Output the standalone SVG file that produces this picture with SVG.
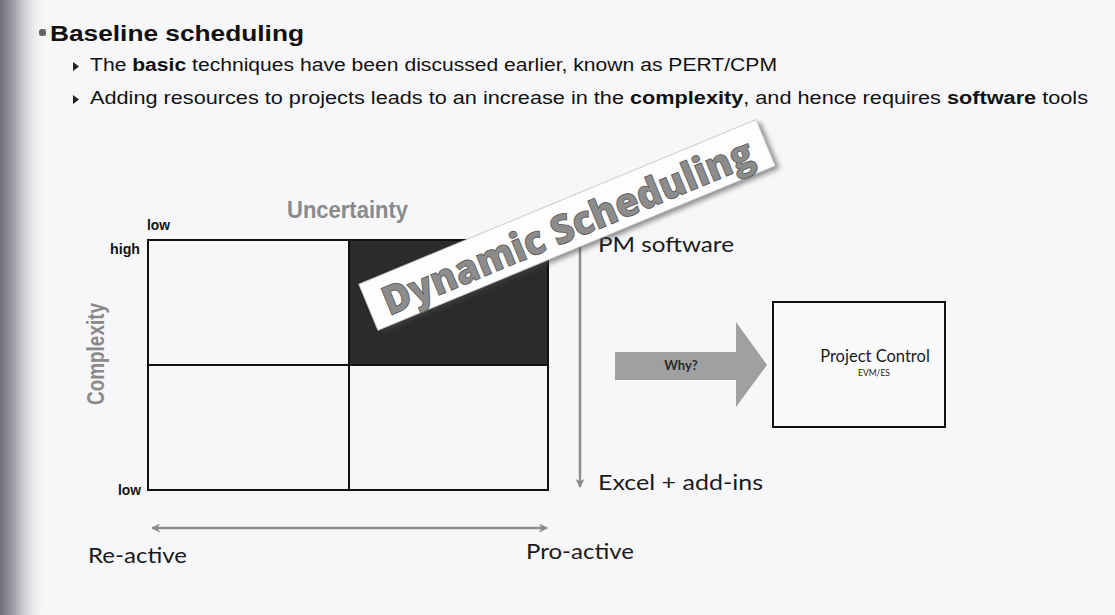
<svg xmlns="http://www.w3.org/2000/svg" width="1115" height="615" viewBox="0 0 1115 615">
<defs>
<linearGradient id="edge" x1="0" y1="0" x2="1" y2="0">
<stop offset="0" stop-color="#6f6f78"/>
<stop offset="0.35" stop-color="#a9a9b2"/>
<stop offset="1" stop-color="#f7f7f9" stop-opacity="0"/>
</linearGradient>
<marker id="ah" viewBox="0 0 10 10" refX="9" refY="5" markerWidth="9" markerHeight="9" markerUnits="userSpaceOnUse" orient="auto-start-reverse">
<path d="M0,0 L10,5 L0,10 L3,5 Z" fill="#8a8a8a"/>
</marker>
<filter id="sh" x="-10%" y="-30%" width="120%" height="160%">
<feGaussianBlur stdDeviation="2.5"/>
</filter>
</defs>
<style>
.hd{font-family:"Liberation Sans",Arial,sans-serif;fill:#111}
.gs{font-family:Lato,"Open Sans",sans-serif;fill:#1a1a1a}
.cond{font-family:"Liberation Sans Narrow","Liberation Sans",Arial,sans-serif;font-weight:bold}
.ax{fill:#8a8a8a}
.grid{fill:none;stroke:#111;stroke-width:2}
.conn{stroke:#8f8f8f;stroke-width:2.5;fill:none}
</style>
<rect width="1115" height="615" fill="#f7f7f9"/>
<rect x="0" y="0" width="46" height="615" fill="url(#edge)"/>

<g id="header">
<rect x="39" y="29" width="7" height="7" rx="2.5" fill="#666"/>
<text class="hd" x="50" y="41" font-size="22" font-weight="bold" textLength="254" lengthAdjust="spacingAndGlyphs">Baseline scheduling</text>
<path d="M73,62 L79,66.5 L73,71 Z" fill="#222"/>
<text class="hd" x="90" y="71" font-size="17.5" textLength="687" lengthAdjust="spacingAndGlyphs">The <tspan font-weight="bold">basic</tspan> techniques have been discussed earlier, known as PERT/CPM</text>
<path d="M73,95 L79,99.5 L73,104 Z" fill="#222"/>
<text class="hd" x="90" y="104" font-size="17.5" textLength="998" lengthAdjust="spacingAndGlyphs">Adding resources to projects leads to an increase in the <tspan font-weight="bold">complexity</tspan>, and hence requires <tspan font-weight="bold">software</tspan> tools</text>
</g>

<g id="matrix">
<rect x="349" y="240" width="199" height="125" fill="#2b2b2b"/>
<rect class="grid" x="148" y="240" width="400" height="250"/>
<line class="grid" x1="349" y1="240" x2="349" y2="490"/>
<line class="grid" x1="148" y1="365" x2="548" y2="365"/>
<text class="cond ax" x="287" y="218" font-size="24" textLength="121" lengthAdjust="spacingAndGlyphs">Uncertainty</text>
<text class="cond ax" transform="translate(104,405) rotate(-90)" font-size="23" textLength="102" lengthAdjust="spacingAndGlyphs">Complexity</text>
<text class="cond" x="147" y="230" font-size="15" fill="#111" textLength="23" lengthAdjust="spacingAndGlyphs">low</text>
<text class="cond" x="110" y="254" font-size="15" fill="#111" textLength="30" lengthAdjust="spacingAndGlyphs">high</text>
<text class="cond" x="118" y="495" font-size="15" fill="#111" textLength="23" lengthAdjust="spacingAndGlyphs">low</text>
</g>

<g id="connectors">
<line class="conn" x1="580" y1="246" x2="580" y2="487" marker-end="url(#ah)"/>
<line class="conn" x1="152" y1="528" x2="547" y2="528" marker-start="url(#ah)" marker-end="url(#ah)"/>
</g>

<g id="software-labels">
<text class="gs" x="598" y="252" font-size="22" textLength="136" lengthAdjust="spacingAndGlyphs">PM software</text>
<text class="gs" x="598" y="490" font-size="22" textLength="165" lengthAdjust="spacingAndGlyphs">Excel + add-ins</text>
</g>

<g id="activity-labels">
<text class="gs" x="88" y="563" font-size="22" textLength="99" lengthAdjust="spacingAndGlyphs">Re-active</text>
<text class="gs" x="526" y="559" font-size="22" textLength="108" lengthAdjust="spacingAndGlyphs">Pro-active</text>
</g>

<g id="why-arrow">
<path d="M615,352 L736,352 L736,322 L767,365 L736,407 L736,380 L615,380 Z" fill="#a0a0a0"/>
<text x="681" y="370" font-family="Lato,'Open Sans',sans-serif" font-size="13" font-weight="bold" fill="#2a2a2a" text-anchor="middle">Why?</text>
</g>

<g id="project-control">
<rect x="773" y="302" width="172" height="125" fill="#fafafa" stroke="#111" stroke-width="2"/>
<text class="gs" x="875" y="362" font-size="16.5" text-anchor="middle">Project Control</text>
<text class="gs" x="874" y="376" font-size="8.5" text-anchor="middle">EVM/ES</text>
</g>

<g id="dynamic-scheduling" transform="translate(567,225) rotate(-22.5)">
<rect x="-212" y="-21" width="430" height="50" fill="#444" opacity="0.6" filter="url(#sh)"/>
<rect x="-215" y="-25" width="430" height="50" fill="#fdfdfd" stroke="#c8c8c8" stroke-width="0.8"/>
<text x="0" y="16" text-anchor="middle" font-family="'Open Sans',Lato,sans-serif" font-weight="800" font-size="40" fill="#8c8c8c" stroke="#555" stroke-width="0.8" textLength="398" lengthAdjust="spacingAndGlyphs">Dynamic Scheduling</text>
</g>
</svg>
